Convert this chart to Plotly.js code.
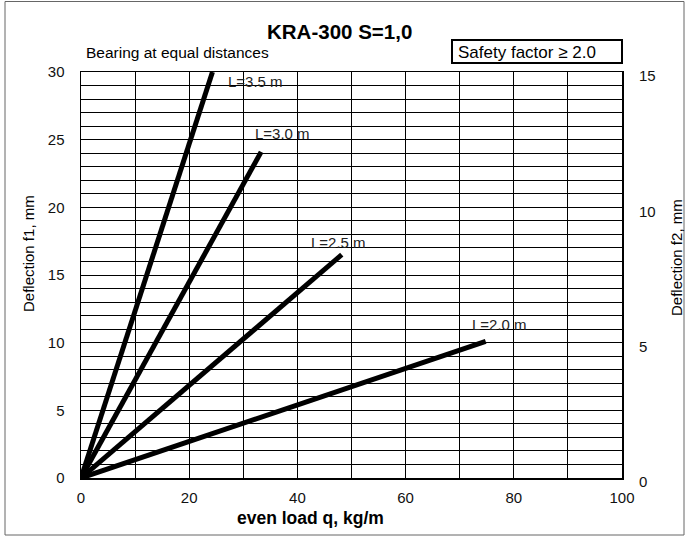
<!DOCTYPE html>
<html>
<head>
<meta charset="utf-8">
<script src="https://cdn.plot.ly/plotly-3.0.1.min.js"></script>
<style>
html,body{margin:0;padding:0;background:#fff;}
#chart{width:685px;height:537px;}
</style>
</head>
<body>
<div id="chart"></div>
<script>
// ---- data ----
const seriesNames = ["L=3.5 m", "L=3.0 m", "L=2.5 m", "L=2.0 m"];
const loadStart = [0, 0, 0, 0];
const loadEnd = [24.3, 33.3, 48.2, 74.8];
const deflStart = [0, 0, 0, 0];
const deflEnd = [30.0, 24.1, 16.5, 10.1];
const xTicks = [0, 20, 40, 60, 80, 100];
const yTicksLeft = [0, 5, 10, 15, 20, 25, 30];
const yTicksRight = [0, 5, 10, 15];

// ---- layout geometry ----
const W = 685, H = 537;
const M = {l: 81, r: 63, t: 72, b: 59};
const pw = W - M.l - M.r, ph = H - M.t - M.b;
const px = v => (v - M.l) / pw;      // pixel -> paper x
const py = v => (H - M.b - v) / ph;  // pixel -> paper y

const FONT = "Liberation Sans, Arial, sans-serif";

const traces = seriesNames.map((n, i) => ({
  type: "scatter", mode: "lines", name: n,
  x: [loadStart[i], loadEnd[i]],
  y: [deflStart[i], deflEnd[i]],
  line: {color: "#000", width: 5},
  hoverinfo: "skip"
}));
// empty trace so that the right-hand axis (f2) is drawn
traces.push({type: "scatter", mode: "lines", x: [], y: [], yaxis: "y2", hoverinfo: "skip"});

// label offsets (pixels) relative to the end of each line
const labelShift = [[14, -9], [-8, 18], [-33, 12], [-16, 17]];
const annotations = seriesNames.map((n, i) => ({
  x: loadEnd[i], y: deflEnd[i], xref: "x", yref: "y",
  text: n, showarrow: false, xanchor: "left", yanchor: "middle",
  xshift: labelShift[i][0], yshift: labelShift[i][1],
  font: {family: FONT, size: 15, color: "#222"}
}));
annotations.push(
  {xref: "paper", yref: "paper", x: px(339), y: py(31),
   text: "<b>KRA-300 S=1,0</b>", showarrow: false, xanchor: "center", yanchor: "middle",
   font: {family: FONT, size: 20.5, color: "#000"}},
  {xref: "paper", yref: "paper", x: px(84), y: py(52),
   text: "Bearing at equal distances", showarrow: false, xanchor: "left", yanchor: "middle",
   font: {family: FONT, size: 15.5, color: "#000"}},
  {xref: "paper", yref: "paper", x: px(527), y: py(52),
   text: "Safety factor \u2265 2.0", showarrow: false, xanchor: "center", yanchor: "middle",
   font: {family: FONT, size: 17, color: "#000"}},
  {xref: "paper", yref: "paper", x: px(310), y: py(518),
   text: "<b>even load q, kg/m</b>", showarrow: false, xanchor: "center", yanchor: "middle",
   font: {family: FONT, size: 17.5, color: "#000"}},
  {xref: "paper", yref: "paper", x: px(28), y: py(254),
   text: "Deflection f1, mm", showarrow: false, textangle: -90, xanchor: "center", yanchor: "middle",
   font: {family: FONT, size: 15, color: "#000"}},
  {xref: "paper", yref: "paper", x: px(676), y: py(258),
   text: "Deflection f2, mm", showarrow: false, textangle: -90, xanchor: "center", yanchor: "middle",
   font: {family: FONT, size: 15, color: "#000"}}
);

const layout = {
  width: W, height: H,
  margin: M,
  paper_bgcolor: "#fff", plot_bgcolor: "#fff",
  showlegend: false,
  xaxis: {
    range: [0, 100], tickvals: xTicks, ticks: "",
    showgrid: true, gridcolor: "#000", gridwidth: 1,
    minor: {dtick: 10, showgrid: true, gridcolor: "#000", gridwidth: 1},
    zeroline: false, showline: true, linecolor: "#000", linewidth: 1.5, mirror: true,
    tickfont: {family: FONT, size: 15, color: "#111"},
    ticklabelstandoff: 5,
    fixedrange: true
  },
  yaxis: {
    range: [0, 30], tickvals: yTicksLeft, ticks: "",
    showgrid: true, gridcolor: "#000", gridwidth: 1,
    minor: {dtick: 1, showgrid: true, gridcolor: "#000", gridwidth: 1},
    zeroline: false, showline: true, linecolor: "#000", linewidth: 1.5, mirror: true,
    tickfont: {family: FONT, size: 15, color: "#111"},
    ticklabelstandoff: 12,
    fixedrange: true
  },
  yaxis2: {
    range: [0, 15], tickvals: yTicksRight, ticks: "",
    overlaying: "y", side: "right", showgrid: false, zeroline: false,
    showline: false,
    tickfont: {family: FONT, size: 15, color: "#111"},
    ticklabelstandoff: 16, ticklabelshift: 4,
    fixedrange: true
  },
  annotations: annotations,
  shapes: [
    {type: "rect", xref: "paper", yref: "paper",
     x0: px(452), x1: px(622), y0: py(63), y1: py(40),
     line: {color: "#000", width: 2}, fillcolor: "rgba(0,0,0,0)"},
    {type: "rect", xref: "paper", yref: "paper",
     x0: px(5), x1: px(684), y0: py(535), y1: py(1.5),
     line: {color: "#666", width: 1}, fillcolor: "rgba(0,0,0,0)"}
  ]
};

Plotly.newPlot("chart", traces, layout, {staticPlot: true, displayModeBar: false});
</script>
</body>
</html>
